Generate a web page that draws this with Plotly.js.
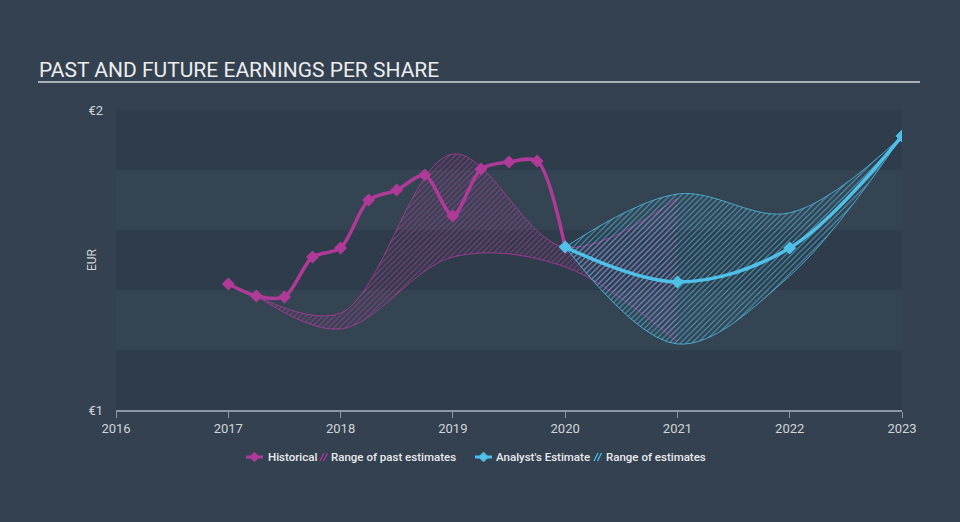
<!DOCTYPE html>
<html>
<head>
<meta charset="utf-8">
<script src="https://cdn.plot.ly/plotly-3.0.1.min.js"></script>
<style>
html,body{margin:0;padding:0;background:#344150;}
#chart{width:960px;height:522px;}
</style>
</head>
<body>
<div id="chart"></div>
<script>
// ---- data ----
const histX = [2017.0, 2017.25, 2017.5, 2017.75, 2018.0, 2018.25, 2018.5, 2018.75, 2019.0, 2019.25, 2019.5, 2019.75, 2020.0];
const histY = [1.42, 1.38, 1.377, 1.51, 1.54, 1.70, 1.733, 1.783, 1.647, 1.803, 1.827, 1.83, 1.543];

const pastRangeX = [2017.25, 2018.0, 2019.0, 2020.0, 2021.0];
const pastUpper  = [1.38, 1.323, 1.853, 1.543, 1.707];
const pastLower  = [1.38, 1.27, 1.51, 1.477, 1.227];

const estX = [2020, 2021, 2022, 2023];
const estY = [1.543, 1.427, 1.54, 1.913];
const estUpper = [1.543, 1.72, 1.657, 1.913];
const estLower = [1.543, 1.22, 1.447, 1.913];

const xTicks = [2016, 2017, 2018, 2019, 2020, 2021, 2022, 2023];
const yTicks = [1, 2];
const yTickText = ['€1', '€2'];
const legendLabels = ['Historical', 'Range of past estimates', "Analyst's Estimate", 'Range of estimates'];

const MAG = '#b03a98';
const BLUE = '#4fc0e8';

const traces = [
  {x: pastRangeX, y: pastLower, type: 'scatter', mode: 'lines', line: {color: MAG, width: 0.8, shape: 'spline'},
   showlegend: false, hoverinfo: 'skip'},
  {x: pastRangeX, y: pastUpper, type: 'scatter', mode: 'lines', name: legendLabels[1], showlegend: false,
   line: {color: MAG, width: 0.8, shape: 'spline'}, fill: 'tonexty', fillcolor: 'rgba(176,58,152,0.12)',
   fillpattern: {shape: '/', fgcolor: 'rgba(176,58,152,0.75)', size: 4, solidity: 0.25}},
  {x: estX, y: estLower, type: 'scatter', mode: 'lines', line: {color: BLUE, width: 0.8, shape: 'spline'},
   showlegend: false, hoverinfo: 'skip'},
  {x: estX, y: estUpper, type: 'scatter', mode: 'lines', name: legendLabels[3], showlegend: false,
   line: {color: BLUE, width: 0.8, shape: 'spline'}, fill: 'tonexty', fillcolor: 'rgba(79,192,232,0.12)',
   fillpattern: {shape: '/', fgcolor: 'rgba(79,192,232,0.75)', size: 4, solidity: 0.25}},
  {x: histX, y: histY, type: 'scatter', mode: 'lines+markers', name: legendLabels[0], showlegend: false,
   line: {color: MAG, width: 3.5, shape: 'spline', smoothing: 0.8},
   marker: {symbol: 'diamond', size: 10, color: MAG}},
  {x: estX, y: estY, type: 'scatter', mode: 'lines+markers', name: legendLabels[2], showlegend: false,
   line: {color: BLUE, width: 3.5, shape: 'spline'},
   marker: {symbol: 'diamond', size: 10, color: BLUE}}
];

// plot area geometry (px) for converting legend/title positions to paper coords
const L = 116, R = 902, T = 110, B = 410;
const px = v => (v - L) / (R - L);
const py = v => (B - v) / (B - T);

const bands = [
  [1.8, 2.0, '#2f3c4b'], [1.6, 1.8, '#354453'], [1.4, 1.6, '#2f3c4b'], [1.2, 1.4, '#354453'], [1.0, 1.2, '#2f3c4b']
];
const shapes = bands.map(b => ({type: 'rect', xref: 'paper', yref: 'y', x0: 0, x1: 1, y0: b[0], y1: b[1],
  fillcolor: b[2], line: {width: 0}, layer: 'below'}));
shapes.push({type: 'line', xref: 'paper', yref: 'paper', x0: px(38), x1: px(920), y0: py(82), y1: py(82),
  line: {color: '#a9b0b8', width: 2}});

// custom legend
const LY = 457;
function lineIcon(x0, color) {
  const cx = x0 + 8.5;
  shapes.push({type: 'line', xref: 'paper', yref: 'paper', x0: px(x0), x1: px(x0 + 17), y0: py(LY), y1: py(LY),
    line: {color: color, width: 3}});
  const d = 5;
  shapes.push({type: 'path', xref: 'paper', yref: 'paper',
    path: `M ${px(cx - d)} ${py(LY)} L ${px(cx)} ${py(LY - d)} L ${px(cx + d)} ${py(LY)} L ${px(cx)} ${py(LY + d)} Z`,
    fillcolor: color, line: {color: color, width: 0.5}});
}
function hatchIcon(x0, color) {
  [0, 3.5].forEach(o => {
    shapes.push({type: 'line', xref: 'paper', yref: 'paper', x0: px(x0 + o), x1: px(x0 + o + 4), y0: py(LY + 4), y1: py(LY - 4),
      line: {color: color, width: 1.2}});
  });
}
lineIcon(246, MAG);
hatchIcon(320, MAG);
lineIcon(475, BLUE);
hatchIcon(594, BLUE);

const legendText = [[267, legendLabels[0]], [330, legendLabels[1]], [495, legendLabels[2]], [605, legendLabels[3]]];
const annotations = legendText.map(t => ({text: t[1], xref: 'paper', yref: 'paper', x: px(t[0]), y: py(LY),
  xanchor: 'left', yanchor: 'middle', showarrow: false, xshift: -1,
  font: {size: 11.5, color: '#e8eaed', family: 'Roboto, sans-serif', weight: 500}}));
annotations.push(
  {text: 'PAST AND FUTURE EARNINGS PER SHARE', xref: 'paper', yref: 'paper', x: px(37), y: py(84),
   xanchor: 'left', yanchor: 'bottom', showarrow: false, font: {size: 21, color: '#eceef0', family: 'Roboto, sans-serif'}},
  {text: 'EUR', xref: 'paper', yref: 'paper', x: px(92), y: 0.5, xanchor: 'center', yanchor: 'middle',
   textangle: -90, showarrow: false, font: {size: 12, color: '#d0d5da'}}
);

const layout = {
  width: 960, height: 522,
  margin: {l: L, r: 960 - R, t: T, b: 522 - B},
  paper_bgcolor: '#344150',
  plot_bgcolor: '#354453',
  font: {family: 'Roboto, "Open Sans", sans-serif', color: '#d6dade', size: 12},
  showlegend: false,
  xaxis: {range: [2016, 2023], tickvals: xTicks, ticktext: xTicks.map(String), showgrid: false, zeroline: false,
    showline: true, linecolor: '#8d98a4', linewidth: 1.5, ticks: 'outside', ticklen: 6, tickcolor: '#8d98a4',
    tickfont: {size: 13, color: '#d0d5da'}, fixedrange: true},
  yaxis: {range: [1, 2], tickvals: yTicks, ticktext: yTickText, showgrid: false, zeroline: false, showline: false,
    ticks: '', ticklabelstandoff: 12, tickfont: {size: 13, color: '#d0d5da'}, fixedrange: true},
  shapes: shapes,
  annotations: annotations
};

Plotly.newPlot('chart', traces, layout, {displayModeBar: false, staticPlot: true});
</script>
</body>
</html>
